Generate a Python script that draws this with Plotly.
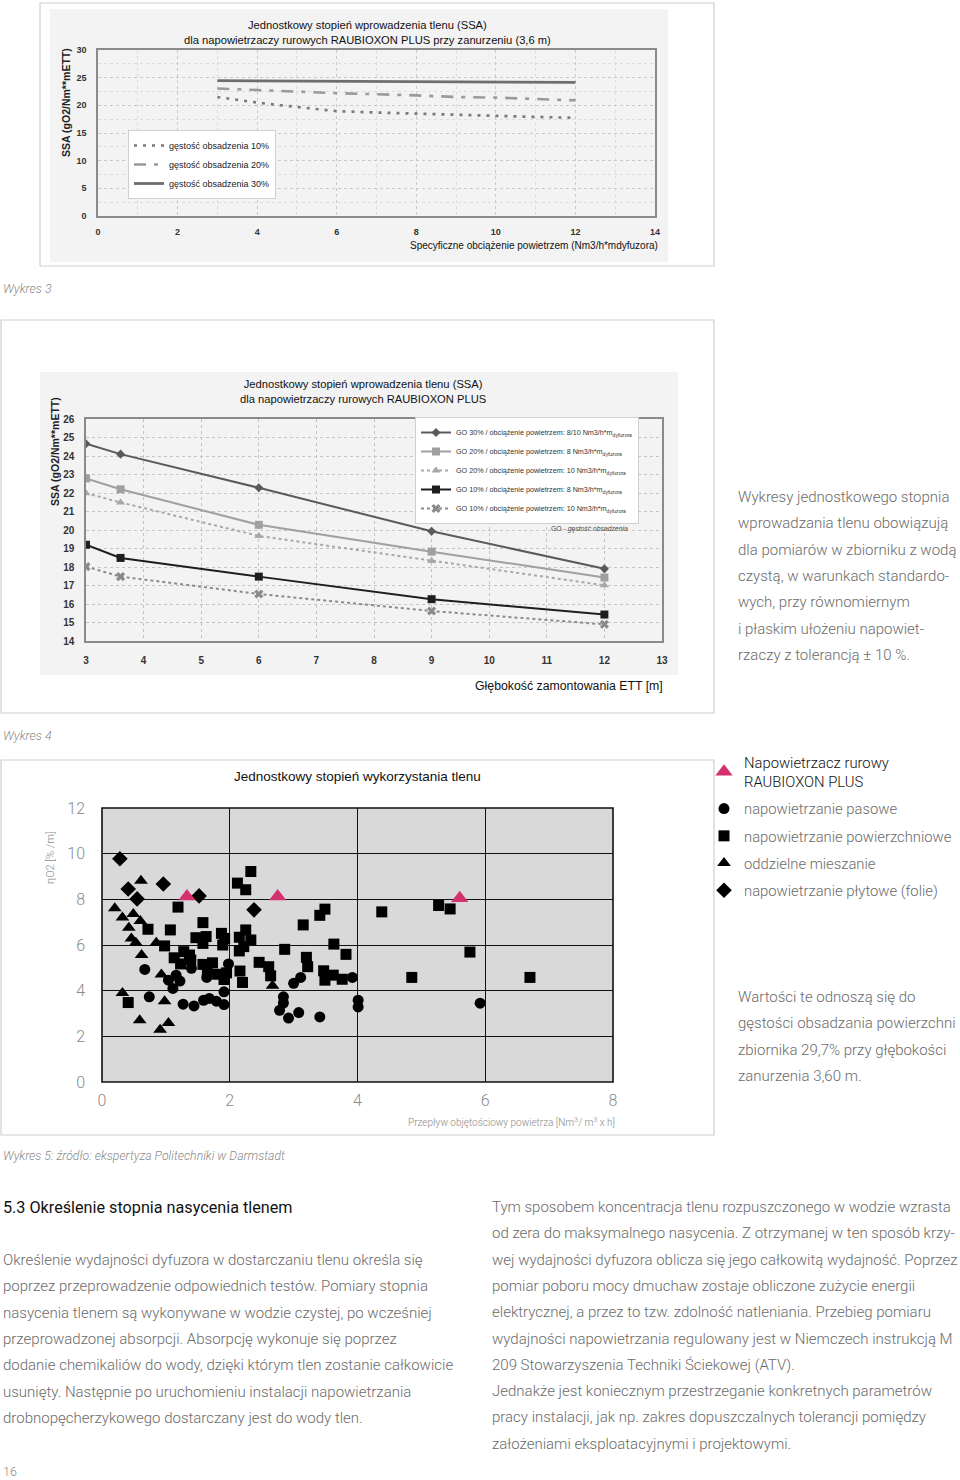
import plotly.graph_objects as go

W, H = 960, 1480

# ---------------- Chart 1 data (SSA vs specific air load, 3.6 m) ----------------
c1_x10 = [3, 4, 5, 6, 7, 8, 9, 10, 11, 12]
c1_y10 = [21.5, 20.5, 19.7, 18.95, 18.7, 18.5, 18.2, 18.0, 17.9, 17.75]
c1_x20 = [3, 6, 8, 9, 10, 12]
c1_y20 = [23.05, 22.2, 21.8, 21.5, 21.4, 20.9]
c1_x30 = [3, 12]
c1_y30 = [24.45, 24.15]
c1_names = ["gęstość obsadzenia 10%", "gęstość obsadzenia 20%", "gęstość obsadzenia 30%"]

# ---------------- Chart 2 data (SSA vs depth) ----------------
c2_x = [3, 3.6, 6, 9, 12]
c2_go30_8_10 = [24.66, 24.1, 22.28, 19.93, 17.9]
c2_go20_8 = [22.79, 22.2, 20.28, 18.83, 17.43]
c2_go20_10 = [21.99, 21.49, 19.68, 18.33, 17.01]
c2_go10_8 = [19.2, 18.49, 17.48, 16.26, 15.43]
c2_go10_10 = [18.02, 17.48, 16.54, 15.62, 14.9]
c2_names = [
    "GO 30% / obciążenie powietrzem: 8/10 Nm3/h*m<sub>dyfuzora</sub>",
    "GO 20% / obciążenie powietrzem: 8 Nm3/h*m<sub>dyfuzora</sub>",
    "GO 20% / obciążenie powietrzem: 10 Nm3/h*m<sub>dyfuzora</sub>",
    "GO 10% / obciążenie powietrzem: 8 Nm3/h*m<sub>dyfuzora</sub>",
    "GO 10% / obciążenie powietrzem: 10 Nm3/h*m<sub>dyfuzora</sub>",
]

# ---------------- Chart 3 data (oxygen utilisation scatter) ----------------
c3_circ_x = [0.67, 1.16, 1.04, 1.22, 1.11, 0.74, 1.40, 1.64, 1.98, 1.91, 1.27, 1.44, 1.59, 1.68,
             1.79, 1.91, 2.84, 2.84, 2.78, 2.92, 3.00, 3.11, 3.08, 3.41, 3.92, 4.01, 4.01, 5.92]
c3_circ_y = [4.93, 4.68, 4.46, 4.42, 4.10, 3.73, 4.98, 4.58, 5.17, 3.95, 3.41, 3.33, 3.58, 3.66,
             3.54, 3.39, 3.73, 3.46, 3.14, 2.80, 4.32, 4.58, 3.04, 2.85, 4.58, 3.58, 3.29, 3.45]
c3_sq_x = [2.33, 2.12, 2.25, 1.19, 0.72, 1.07, 1.58, 1.47, 1.63, 1.58, 1.87, 1.92, 1.89, 2.15,
           2.25, 2.33, 2.22, 2.15, 0.98, 1.13, 1.28, 1.37, 1.23, 1.39, 1.58, 1.73, 1.65, 1.81,
           1.95, 1.91, 2.16, 2.20, 2.46, 0.41, 2.61, 2.64, 2.86, 3.15, 3.20, 3.22, 3.41, 3.49,
           3.47, 3.49, 3.62, 3.63, 3.76, 3.82, 4.38, 5.27, 5.45, 5.76, 4.85, 6.70]
c3_sq_y = [9.22, 8.71, 8.42, 7.66, 6.69, 6.66, 6.98, 6.32, 6.37, 6.07, 6.51, 6.29, 6.00, 6.34,
           6.66, 6.22, 5.93, 5.74, 5.96, 5.44, 5.71, 5.56, 5.17, 5.34, 5.15, 5.22, 4.90, 4.72,
           4.78, 4.49, 4.86, 4.36, 5.24, 3.48, 5.05, 4.65, 5.81, 6.88, 5.46, 5.05, 7.30, 7.57,
           4.87, 4.46, 4.68, 6.04, 4.50, 5.59, 7.45, 7.73, 7.58, 5.69, 4.58, 4.58]
c3_tri_x = [0.61, 0.20, 0.32, 0.49, 0.42, 0.60, 0.46, 0.53, 0.85, 0.62, 0.93, 0.32, 0.98, 0.59,
            1.04, 0.91, 2.67]
c3_tri_y = [8.81, 7.61, 7.20, 7.36, 6.76, 7.05, 6.28, 6.10, 6.10, 5.56, 4.71, 3.90, 3.54, 2.70,
            2.58, 2.29, 4.21]
c3_dia_x = [0.28, 0.41, 0.96, 0.55, 1.52, 2.38]
c3_dia_y = [9.78, 8.45, 8.67, 8.02, 8.15, 7.54]
c3_rau_x = [1.33, 2.75, 5.60]
c3_rau_y = [8.12, 8.12, 8.05]
c3_names = ["Napowietrzacz rurowy<br>RAUBIOXON PLUS", "napowietrzanie pasowe",
            "napowietrzanie powierzchniowe", "oddzielne mieszanie", "napowietrzanie płytowe (folie)"]

SANS = "Liberation Sans, Arial, sans-serif"
LIGHT = "Roboto, Liberation Sans, sans-serif"
GRAYTXT = "#6b6b6b"
MAGENTA = "#d4306e"
BODY = 15


def xd(a, b):
    return [a / W, b / W]


def yd(top, bottom):
    return [1 - bottom / H, 1 - top / H]


fig = go.Figure()

# ---- chart 1 traces ----
fig.add_trace(go.Scatter(x=c1_x10, y=c1_y10, name=c1_names[0], mode="lines",
                         line=dict(color="#7a7a7a", width=2.6, dash="3px,6px"),
                         xaxis="x", yaxis="y", legend="legend"))
fig.add_trace(go.Scatter(x=c1_x20, y=c1_y20, name=c1_names[1], mode="lines",
                         line=dict(color="#9a9a9a", width=2.6, dash="12px,8px,4px,8px"),
                         xaxis="x", yaxis="y", legend="legend"))
fig.add_trace(go.Scatter(x=c1_x30, y=c1_y30, name=c1_names[2], mode="lines",
                         line=dict(color="#6e6e6e", width=2.8),
                         xaxis="x", yaxis="y", legend="legend"))

# ---- chart 2 traces ----
c2_series = [c2_go30_8_10, c2_go20_8, c2_go20_10, c2_go10_8, c2_go10_10]
c2_style = [
    dict(color="#5a5a5a", dash="solid", symbol="diamond", msize=7),
    dict(color="#a0a0a0", dash="solid", symbol="square", msize=8),
    dict(color="#a8a8a8", dash="dot", symbol="triangle-up", msize=8),
    dict(color="#1e1e1e", dash="solid", symbol="square", msize=8),
    dict(color="#8a8a8a", dash="dot", symbol="x", msize=8),
]
for ys, nm, st in zip(c2_series, c2_names, c2_style):
    fig.add_trace(go.Scatter(x=c2_x, y=ys, name=nm, mode="lines+markers",
                             line=dict(color=st["color"], width=2, dash=st["dash"]),
                             marker=dict(symbol=st["symbol"], size=st["msize"], color=st["color"]),
                             xaxis="x2", yaxis="y2", legend="legend2"))

# ---- chart 3 traces ----
c3_sets = [
    (c3_rau_x, c3_rau_y, "triangle-up", MAGENTA, 15),
    (c3_circ_x, c3_circ_y, "circle", "#000000", 11),
    (c3_sq_x, c3_sq_y, "square", "#000000", 11),
    (c3_tri_x, c3_tri_y, "triangle-up", "#000000", 12),
    (c3_dia_x, c3_dia_y, "diamond", "#000000", 12),
]
order = [1, 2, 3, 4, 0]  # draw black ones first, magenta on top
for k in order:
    xs, ys, sym, col, sz = c3_sets[k]
    nm = c3_names[k]
    if k == 0:
        nm = "<span style='color:#111'>" + nm + "</span>"
    fig.add_trace(go.Scatter(x=xs, y=ys, name=nm, mode="markers",
                             marker=dict(symbol=sym, color=col, size=sz, line=dict(width=0)),
                             xaxis="x3", yaxis="y3", legend="legend3", legendrank=k + 1,
                             legendgroup="g%d" % k))

tick_font_bold = dict(family=SANS, size=9, color="#333333", weight="bold")

fig.update_layout(
    width=W, height=H, margin=dict(l=0, r=0, t=0, b=0, autoexpand=False),
    paper_bgcolor="white", plot_bgcolor="rgba(0,0,0,0)",
    showlegend=True,
    # chart 1
    xaxis=dict(domain=xd(98, 655), range=[0, 14], dtick=2, anchor="y",
               showgrid=True, gridcolor="#c9c9c9", griddash="dot", gridwidth=1,
               minor=dict(dtick=1, showgrid=True, gridcolor="#dcdcdc", griddash="dot"),
               showline=True, linecolor="#8a8a8a", linewidth=1.5, mirror=True,
               zeroline=False, ticks="", tickfont=tick_font_bold, ticklabelstandoff=6),
    yaxis=dict(domain=yd(50, 216), range=[0, 30], dtick=5, anchor="x",
               showgrid=True, gridcolor="#c9c9c9", griddash="dot", gridwidth=1,
               minor=dict(dtick=2.5, showgrid=True, gridcolor="#dcdcdc", griddash="dot"),
               showline=True, linecolor="#8a8a8a", linewidth=1.5, mirror=True,
               zeroline=False, ticks="", tickfont=tick_font_bold, ticklabelstandoff=8),
    # chart 2
    xaxis2=dict(domain=xd(86, 662), range=[3, 13], dtick=1, anchor="y2",
                showgrid=True, gridcolor="#c4c4c4", griddash="dot", gridwidth=1,
                showline=True, linecolor="#8a8a8a", linewidth=1.5, mirror=True,
                zeroline=False, ticks="", tickfont=dict(family=SANS, size=10, color="#333", weight="bold"),
                ticklabelstandoff=9),
    yaxis2=dict(domain=yd(419, 641), range=[14, 26], dtick=1, anchor="x2",
                showgrid=True, gridcolor="#c4c4c4", griddash="dot", gridwidth=1,
                showline=True, linecolor="#8a8a8a", linewidth=1.5, mirror=True,
                zeroline=False, ticks="", tickfont=dict(family=SANS, size=10, color="#333", weight="bold"),
                ticklabelstandoff=8),
    # chart 3
    xaxis3=dict(domain=xd(102, 613), range=[0, 8], dtick=2, anchor="y3",
                showgrid=True, gridcolor="#111", gridwidth=1, zeroline=False,
                showline=False, ticks="", tickfont=dict(family=LIGHT, size=16, color="#8a8a8a", weight=300),
                ticklabelstandoff=7),
    yaxis3=dict(domain=yd(808, 1082), range=[0, 12], dtick=2, anchor="x3",
                showgrid=True, gridcolor="#111", gridwidth=1, zeroline=False,
                showline=False, ticks="", tickfont=dict(family=LIGHT, size=16, color="#8a8a8a", weight=300),
                ticklabelstandoff=16),
    legend=dict(x=128 / W, y=1 - 130 / H, xanchor="left", yanchor="top",
                bgcolor="white", bordercolor="#cfcfcf", borderwidth=1,
                font=dict(family=SANS, size=9, color="#222"), itemwidth=30,
                tracegroupgap=0),
    legend2=dict(x=415 / W, y=1 - 417 / H, xanchor="left", yanchor="top",
                 bgcolor="white", bordercolor="#cfcfcf", borderwidth=1,
                 font=dict(family=SANS, size=7.2, color="#333"), itemwidth=30,
                 tracegroupgap=0),
    legend3=dict(x=704 / W, y=1 - 746 / H, xanchor="left", yanchor="top",
                 bgcolor="rgba(0,0,0,0)", borderwidth=0,
                 font=dict(family=LIGHT, size=14.8, color=GRAYTXT, weight=300), itemwidth=30,
                 tracegroupgap=5, traceorder="grouped"),
)

shapes = []
# frames
for (x0, y0, x1, y1) in [(40, 3, 714, 266), (1, 320, 714, 713), (1, 760, 714, 1135)]:
    shapes.append(dict(type="rect", xref="paper", yref="paper", x0=x0 / W, x1=x1 / W,
                       y0=1 - y1 / H, y1=1 - y0 / H, line=dict(color="#cfcfcf", width=1.2),
                       layer="below"))
# scanned chart backgrounds
for (x0, y0, x1, y1) in [(50, 9, 668, 262), (40, 372, 678, 675)]:
    shapes.append(dict(type="rect", xref="paper", yref="paper", x0=x0 / W, x1=x1 / W,
                       y0=1 - y1 / H, y1=1 - y0 / H, line=dict(width=0), fillcolor="#f3f3f3",
                       layer="below"))
# chart 3 plot area
shapes.append(dict(type="rect", xref="x3 domain", yref="y3 domain", x0=0, x1=1, y0=0, y1=1,
                   fillcolor="#d9d9d9", line=dict(color="#111", width=1.6), layer="below"))
fig.update_layout(shapes=shapes)


def ann(text, x, y, size, color="#222", xanchor="left", family=SANS, weight="normal",
        style="normal", angle=0, yanchor="middle", align="left"):
    fig.add_annotation(text=text, x=x / W, y=1 - y / H, xref="paper", yref="paper",
                       xanchor=xanchor, yanchor=yanchor, showarrow=False, textangle=angle,
                       align=align,
                       font=dict(size=size, color=color, family=family, weight=weight, style=style))


# chart 1 texts
ann("Jednostkowy stopień wprowadzenia tlenu (SSA)<br>dla napowietrzaczy rurowych RAUBIOXON PLUS przy zanurzeniu (3,6 m)",
    367, 32, 11.2, "#111", xanchor="center", align="center")
ann("SSA (gO2/Nm**mETT)", 66, 103, 10.5, "#222", xanchor="center", weight="bold", angle=-90)
ann("Specyficzne obciążenie powietrzem (Nm3/h*mdyfuzora)", 660, 246, 10, "#111", xanchor="right")
ann("Wykres 3", 1, 288, 12.5, "#8a8a8a", style="italic", family=LIGHT, weight=300)

# chart 2 texts
ann("Jednostkowy stopień wprowadzenia tlenu (SSA)<br>dla napowietrzaczy rurowych RAUBIOXON PLUS",
    363, 391, 11.2, "#111", xanchor="center", align="center")
ann("SSA (gO2/Nm**mETT)", 55, 452, 10.5, "#222", xanchor="center", weight="bold", angle=-90)
ann("Głębokość zamontowania ETT [m]", 665, 686, 12.3, "#111", xanchor="right")
ann("GO - <i>gęstość obsadzenia</i>", 630, 529, 6.8, "#444", xanchor="right")

# right side note
side1 = ["Wykresy jednostkowego stopnia", "wprowadzania tlenu obowiązują",
         "dla pomiarów w zbiorniku z wodą", "czystą, w warunkach standardo-",
         "wych, przy równomiernym", "i płaskim ułożeniu napowiet-",
         "rzaczy z tolerancją ± 10 %."]
for i, t in enumerate(side1):
    ann(t, 736, 497 + i * 26.3, BODY, GRAYTXT, family=LIGHT, weight=300)

# chart 3 texts
ann("Wykres 4", 1, 735, 12.5, "#8a8a8a", style="italic", family=LIGHT, weight=300)
ann("Jednostkowy stopień wykorzystania tlenu", 357, 776, 13.5, "#111", xanchor="center")
ann("ηO2 [% /m]", 50, 858, 11, "#8a8a8a", xanchor="center", angle=-90, family=LIGHT, weight=300)
ann("Przepływ objętościowy powietrza [Nm<sup>3</sup>/ m<sup>3</sup> x h]", 617, 1122, 10,
    "#8a8a8a", xanchor="right", family=LIGHT, weight=300)

side2 = ["Wartości te odnoszą się do", "gęstości obsadzania powierzchni",
         "zbiornika 29,7% przy głębokości", "zanurzenia 3,60 m."]
for i, t in enumerate(side2):
    ann(t, 736, 997 + i * 26.3, BODY, GRAYTXT, family=LIGHT, weight=300)

ann("Wykres 5: źródło: ekspertyza Politechniki w Darmstadt", 1, 1156, 12.3, "#8a8a8a",
    style="italic", family=LIGHT, weight=300)

# bottom text
ann("5.3 Określenie stopnia nasycenia tlenem", 1, 1207, 16.2, "#111", family=LIGHT)
left_lines = ["Określenie wydajności dyfuzora w dostarczaniu tlenu określa się",
              "poprzez przeprowadzenie odpowiednich testów. Pomiary stopnia",
              "nasycenia tlenem są wykonywane w wodzie czystej, po wcześniej",
              "przeprowadzonej absorpcji. Absorpcję wykonuje się poprzez",
              "dodanie chemikaliów do wody, dzięki którym tlen zostanie całkowicie",
              "usunięty. Następnie po uruchomieniu instalacji napowietrzania",
              "drobnopęcherzykowego dostarczany jest do wody tlen."]
for i, t in enumerate(left_lines):
    ann(t, 1, 1260 + i * 26.3, BODY, GRAYTXT, family=LIGHT, weight=300)

right_lines = ["Tym sposobem koncentracja tlenu rozpuszczonego w wodzie wzrasta",
               "od zera do maksymalnego nasycenia. Z otrzymanej w ten sposób krzy-",
               "wej wydajności dyfuzora oblicza się jego całkowitą wydajność. Poprzez",
               "pomiar poboru mocy dmuchaw zostaje obliczone zużycie energii",
               "elektrycznej, a przez to tzw. zdolność natleniania. Przebieg pomiaru",
               "wydajności napowietrzania regulowany jest w Niemczech instrukcją M",
               "209 Stowarzyszenia Techniki Ściekowej (ATV).",
               "Jednakże jest koniecznym przestrzeganie konkretnych parametrów",
               "pracy instalacji, jak np. zakres dopuszczalnych tolerancji pomiędzy",
               "założeniami eksploatacyjnymi i projektowymi."]
for i, t in enumerate(right_lines):
    ann(t, 490, 1207 + i * 26.3, BODY, GRAYTXT, family=LIGHT, weight=300)

ann("16", 1, 1471, 12.5, "#8a8a8a", family=LIGHT, weight=300)

fig.write_html("out.html", config={"displayModeBar": False},
               post_script="document.body.style.margin='0';document.body.style.padding='0';"
                           "document.documentElement.style.overflow='hidden';")
